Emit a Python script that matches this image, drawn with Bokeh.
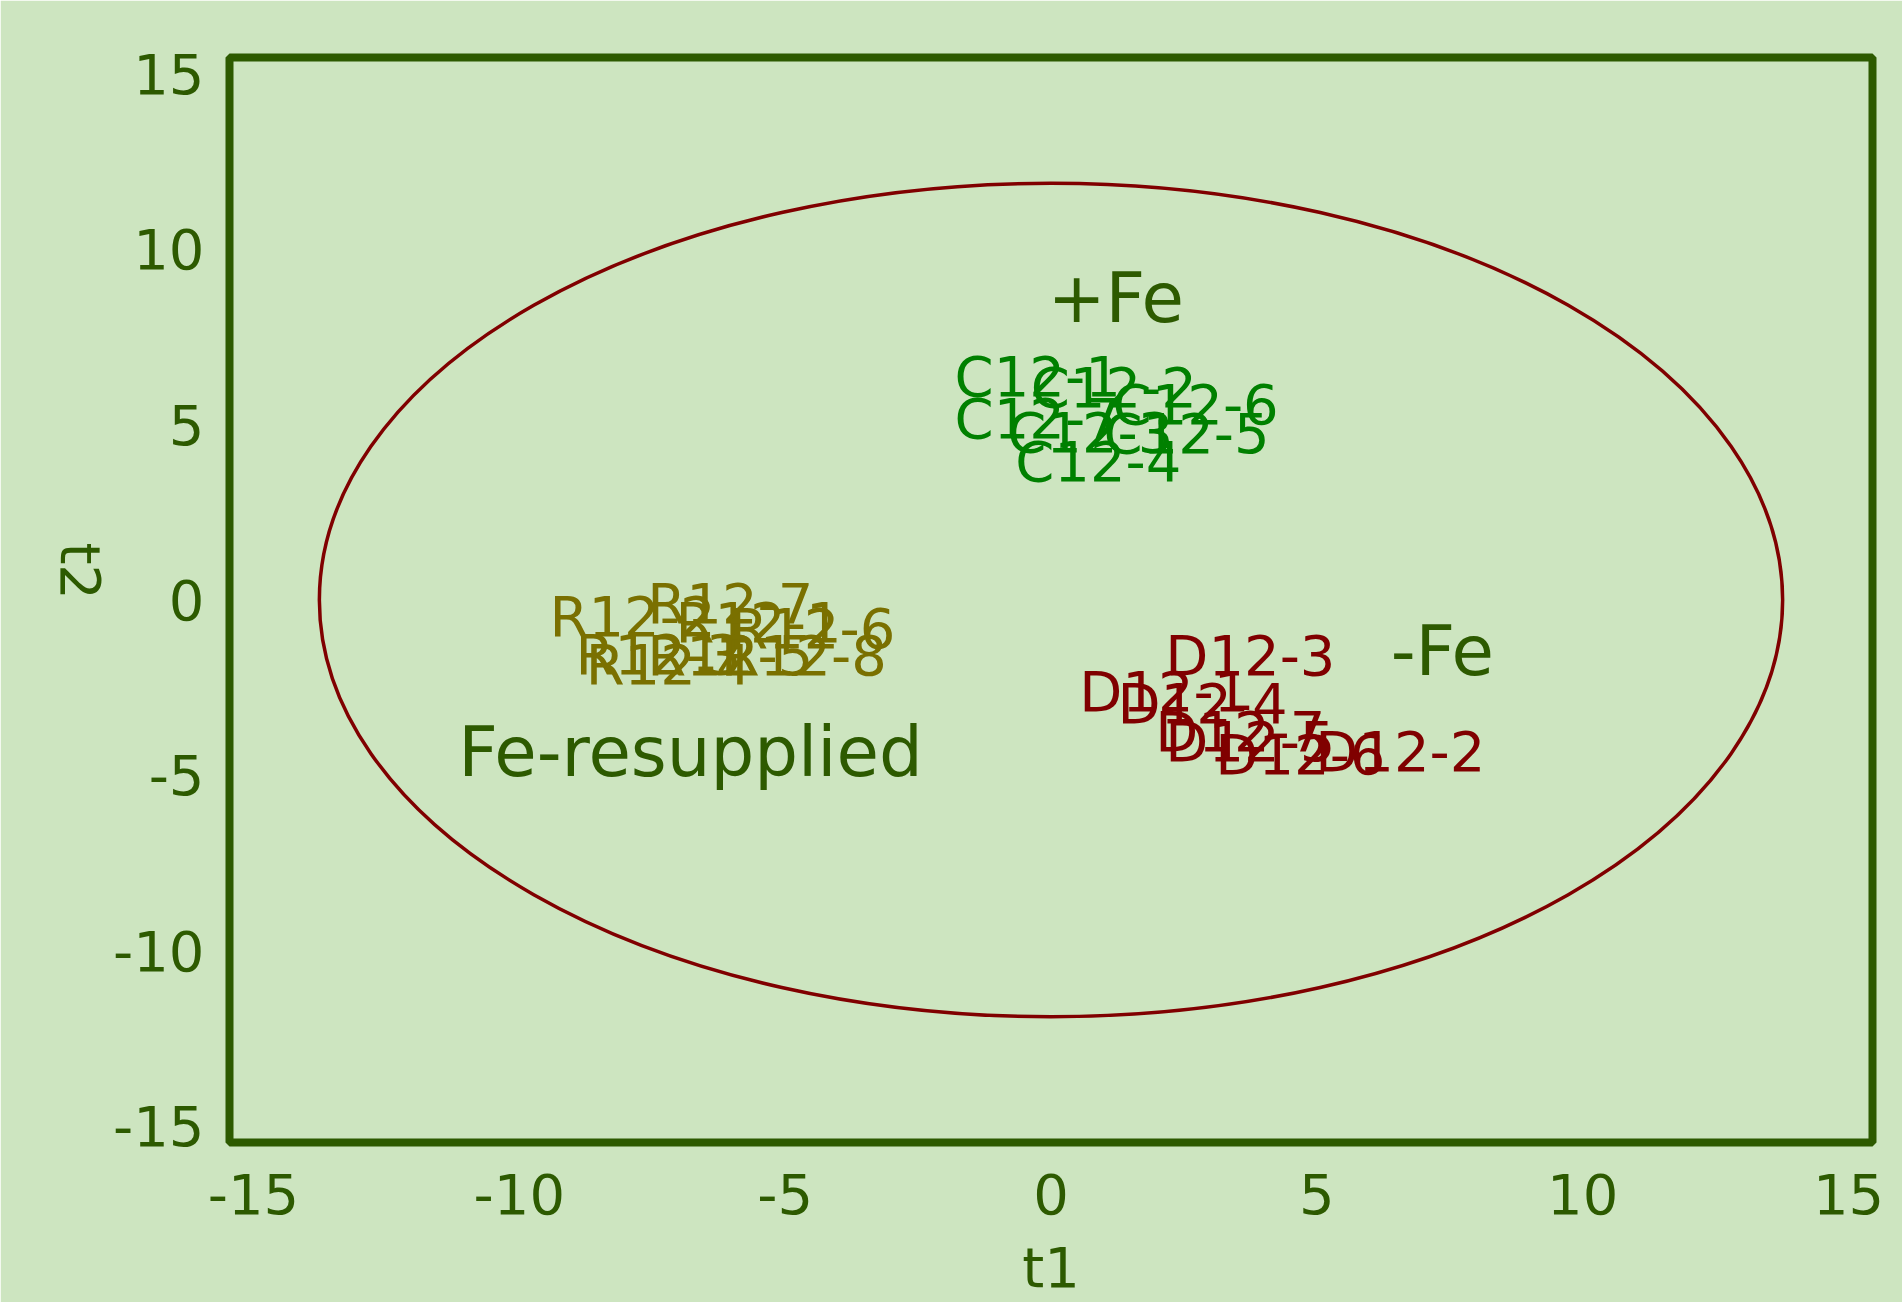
import math
from bokeh.plotting import figure
from bokeh.models import Range1d, FixedTicker, ColumnDataSource, PrintfTickFormatter
from bokeh.core.properties import value
from bokeh.embed import file_html
from bokeh.resources import INLINE

# ---- data ----
ticks = [-15, -10, -5, 0, 5, 10, 15]

c_labels = ["C12-1", "C12-2", "C12-3", "C12-4", "C12-5", "C12-6", "C12-7"]
c_t1 = [-0.25, 1.18, 0.74, 0.89, 2.55, 2.72, -0.25]
c_t2 = [6.38, 6.06, 4.78, 3.96, 4.75, 5.58, 5.18]

r_labels = ["R12-1", "R12-2", "R12-3", "R12-4", "R12-5", "R12-6", "R12-7", "R12-8"]
r_t1 = [-5.50, -7.87, -7.38, -7.19, -6.03, -4.49, -6.03, -4.65]
r_t2 = [-0.63, -0.48, -1.54, -1.85, -1.59, -0.80, -0.11, -1.59]

d_labels = ["D12-1", "D12-2", "D12-3", "D12-4", "D12-5", "D12-6", "D12-7"]
d_t1 = [2.13, 6.57, 3.75, 2.85, 3.75, 4.69, 3.56]
d_t2 = [-2.62, -4.33, -1.57, -2.96, -4.04, -4.41, -3.76]

group_names = ["+Fe", "-Fe", "Fe-resupplied"]
group_t1 = [1.22, 7.36, -6.78]
group_t2 = [8.60, -1.45, -4.33]

ellipse_center = [0.0, 0.0]
ellipse_semi = [13.76, 11.88]

x_title = "t1"
y_title = "t2"

# ---- styles ----
BG = "#cde5c0"
DARK = "#2d5a00"
C_COL = "#008000"
R_COL = "#7a7000"
D_COL = "#800000"
FONT = "DejaVu Sans"

p = figure(width=1902, height=1302, output_backend="svg", toolbar_location=None,
           x_range=Range1d(-15.45, 15.45), y_range=Range1d(-15.46, 15.46),
           min_border_left=229, min_border_right=30, min_border_top=57, min_border_bottom=159)
p.background_fill_color = BG
p.border_fill_color = BG
p.outline_line_color = DARK
p.outline_line_width = 8
p.grid.visible = False

for ax in (p.xaxis, p.yaxis):
    ax.ticker = FixedTicker(ticks=ticks)
    ax.formatter = PrintfTickFormatter(format="%d")
    ax.axis_line_color = None
    ax.major_tick_line_color = None
    ax.minor_tick_line_color = None
    ax.major_label_text_font = FONT
    ax.major_label_text_font_size = "56px"
    ax.major_label_text_color = DARK
    ax.axis_label_text_font = FONT
    ax.axis_label_text_font_size = "56px"
    ax.axis_label_text_color = DARK
    ax.axis_label_text_font_style = "normal"

p.xaxis.axis_label = x_title
p.xaxis.major_label_standoff = 25
p.xaxis.axis_label_standoff = 18

# y title reads top-to-bottom
p.yaxis.axis_label = y_title
p.yaxis.axis_label_orientation = -math.pi / 2
p.yaxis.major_label_text_align = "center"
p.yaxis.major_label_standoff = 19
p.yaxis.axis_label_standoff = 30

p.ellipse(x=[ellipse_center[0]], y=[ellipse_center[1]],
          width=[2 * ellipse_semi[0]], height=[2 * ellipse_semi[1]],
          fill_alpha=0, line_color=D_COL, line_width=3.5)

def labels(xs, ys, txt, col, size):
    src = ColumnDataSource(dict(x=xs, y=ys, t=txt))
    p.text(x="x", y="y", text="t", source=src, text_color=col,
           text_font=value(FONT), text_font_size=size,
           text_align="center", text_baseline="middle")

labels(c_t1, c_t2, c_labels, C_COL, "56px")
labels(r_t1, r_t2, r_labels, R_COL, "56px")
labels(d_t1, d_t2, d_labels, D_COL, "56px")
labels(group_t1, group_t2, group_names, DARK, "69px")

open("out.html", "w").write(file_html(p, INLINE))
